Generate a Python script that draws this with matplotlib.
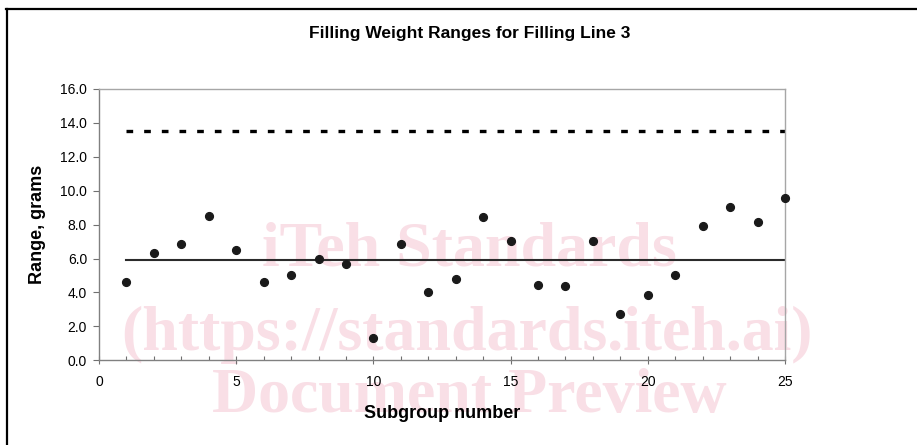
import matplotlib
matplotlib.use('Agg')
import matplotlib.pyplot as plt
from matplotlib.lines import Line2D
from matplotlib.ticker import MultipleLocator, FormatStrFormatter

# subgroup ranges
subgroup = [1, 2, 3, 4, 5, 6, 7, 8, 9, 10, 11, 12, 13,
            14, 15, 16, 17, 18, 19, 20, 21, 22, 23, 24, 25]
ranges = [4.60, 6.35, 6.87, 8.52, 6.53, 4.60, 5.05, 6.00, 5.67, 1.34, 6.87, 4.01, 4.80,
          8.44, 7.04, 4.44, 4.37, 7.04, 2.71, 3.83, 5.05, 7.91, 9.03, 8.16, 9.56]
r_bar = 5.92   # centre line
ucl = 13.51    # upper control limit
line_x = [1, 25]

watermark = ['iTeh Standards', '(https://standards.iteh.ai)', 'Document Preview']

W, H = 917, 445


def px(x, y):
    """pixel position (from top left) -> figure fraction"""
    return x / W, 1 - y / H


plt.rcParams['font.family'] = ['Liberation Sans', 'DejaVu Sans']

fig = plt.figure(figsize=(W / 100, H / 100), dpi=100)
ax = fig.add_axes([99 / W, 1 - 360.3 / H, (785 - 99) / W, (360.3 - 89) / H])
ax.set_facecolor('none')

# watermark behind the data
wm_pos = [(262, 265), (121, 350), (212, 412)]
for txt, (x, y) in zip(watermark, wm_pos):
    fx, fy = px(x, y)
    ax.text(fx, fy, txt, transform=fig.transFigure, family='Liberation Serif',
            fontweight='bold', fontsize=46, color='#f9dfe6', ha='left', va='baseline',
            zorder=0.5, clip_on=False)

ax.plot(line_x, [ucl, ucl], color='black', lw=2.4, linestyle=(0, (2.0, 3.3)),
        solid_capstyle='butt', dash_capstyle='butt', zorder=2)
ax.plot(line_x, [r_bar, r_bar], color='#2b2b2b', lw=1.5, zorder=2)
ax.plot(subgroup, ranges, 'o', color='#1a1a1a', markersize=5.6, clip_on=False, zorder=3)

ax.set_xlim(0, 25)
ax.set_ylim(0, 16)
ax.xaxis.set_major_locator(MultipleLocator(5))
ax.xaxis.set_minor_locator(MultipleLocator(1))
ax.yaxis.set_major_locator(MultipleLocator(2))
ax.yaxis.set_major_formatter(FormatStrFormatter('%.1f'))

for s in ax.spines.values():
    s.set_color('#a6a6a6')
    s.set_linewidth(1.0)
ax.spines['left'].set_color('#808080')
ax.spines['bottom'].set_color('#808080')

ax.tick_params(axis='x', which='major', direction='inout', length=5.8, width=0.8,
               color='#707070', pad=7.5, labelsize=10)
ax.tick_params(axis='x', which='minor', direction='in', length=3, width=0.8, color='#707070')
ax.tick_params(axis='y', which='major', direction='out', length=4.3, width=0.8,
               color='#707070', pad=4.3, labelsize=10)

ax.set_xlabel('Subgroup number', fontsize=13, fontweight='bold', labelpad=12)
ax.set_ylabel('Range, grams', fontsize=13, fontweight='bold', labelpad=10)

tx, ty = px(469.5, 38)
fig.text(tx, ty, 'Filling Weight Ranges for Filling Line 3', fontsize=12.5,
         fontweight='bold', ha='center', va='baseline')

# outer frame (top and left edges only)
fig.add_artist(Line2D([6 / W, 1], [1 - 8.5 / H] * 2, transform=fig.transFigure,
                      color='black', lw=1.6))
fig.add_artist(Line2D([7 / W] * 2, [0, 1 - 8.5 / H], transform=fig.transFigure,
                      color='black', lw=1.6))

fig.savefig('out.png', dpi=100)
